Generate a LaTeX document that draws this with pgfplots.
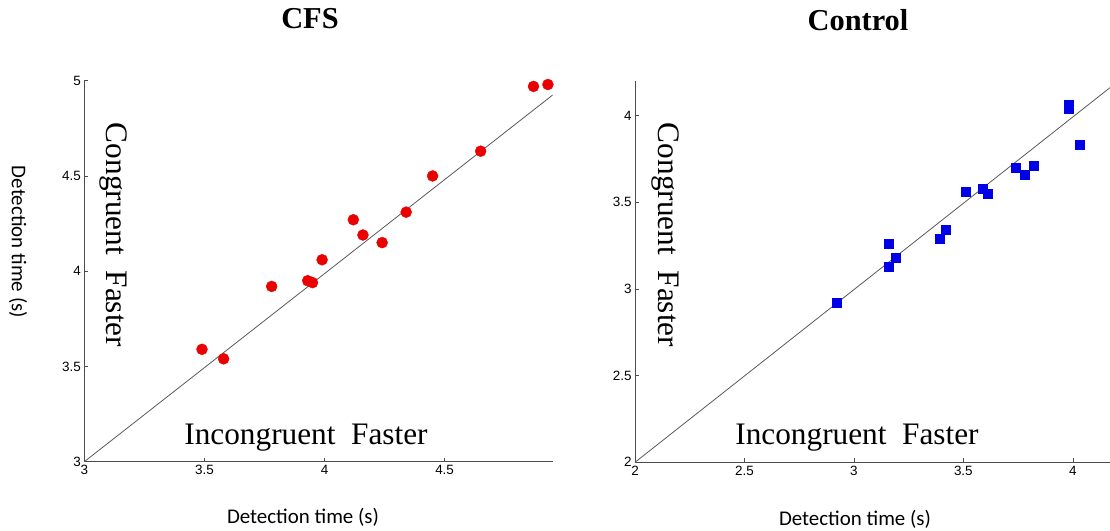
\documentclass[border=0pt]{standalone}
\usepackage{pgfplots}
\pgfplotsset{compat=1.18}
\usepackage{fontspec}
\setmainfont{Liberation Serif}
\newfontfamily\arialf{Liberation Sans}
\newfontfamily\calib{Carlito}
\definecolor{ptred}{RGB}{235,0,0}
\definecolor{ptblue}{RGB}{0,0,230}
\begin{document}
\begin{tikzpicture}
\useasboundingbox (0,0) rectangle (1110bp,531bp);
\pgfplotsset{myax/.style={scale only axis, axis x line*=bottom, axis y line*=left,
  tick align=inside, major tick length=4bp,
  axis line style={draw=black!70, line width=0.8bp}, tick style={draw=black!70, line width=0.6bp},
  ticklabel style={font=\arialf\fontsize{13.5}{15}\selectfont},
  /pgf/number format/assume math mode=true}}
\begin{axis}[myax, at={(84.3bp,69.3bp)}, anchor=south west, width=468.4bp, height=381bp,
  xmin=3, xmax=4.95, ymin=3, ymax=5, xtick={3,3.5,4,4.5}, ytick={3,3.5,4,4.5,5}]
\addplot[draw=black!65, line width=0.8bp] coordinates {(3,3) (4.95,4.925)};
\addplot[only marks, mark=*, mark size=5.5bp, color=ptred] coordinates {
(3.49,3.59) (3.58,3.54) (3.78,3.92) (3.93,3.95) (3.95,3.94) (3.99,4.06)
(4.12,4.27) (4.16,4.19) (4.24,4.15) (4.34,4.31) (4.45,4.50) (4.65,4.63)
(4.87,4.97) (4.93,4.98)};
\end{axis}
\begin{axis}[myax, at={(635bp,68.7bp)}, anchor=south west, width=475bp, height=381.6bp,
  xmin=2, xmax=4.17, ymin=2, ymax=4.2, xtick={2,2.5,3,3.5,4}, ytick={2,2.5,3,3.5,4}]
\addplot[draw=black!65, line width=0.8bp] coordinates {(2,2) (4.17,4.16)};
\addplot[only marks, mark=square*, mark size=4.5bp, color=ptblue] coordinates {
(2.92,2.92) (3.16,3.13) (3.16,3.26) (3.19,3.18) (3.39,3.29) (3.42,3.34)
(3.51,3.56) (3.59,3.58) (3.61,3.55) (3.74,3.70) (3.78,3.66) (3.82,3.71)
(3.98,4.04) (3.98,4.06) (4.03,3.83)};
\end{axis}
\node[anchor=base, font=\bfseries\fontsize{30.5}{32}\selectfont] at (310bp,502bp) {CFS};
\node[anchor=base, font=\bfseries\fontsize{30.5}{32}\selectfont] at (858bp,500bp) {Control};
\node[rotate=-90, font=\calib\fontsize{21}{23}\selectfont] at (18bp,289bp) {Detection time (s)};
\node[font=\calib\fontsize{21}{23}\selectfont] at (303bp,14bp) {Detection time (s)};
\node[font=\calib\fontsize{21}{23}\selectfont, inner sep=1bp] at (855bp,12bp) {Detection time (s)};
\node[rotate=-90, font=\fontsize{31.4}{33}\selectfont] at (113bp,296bp) {Congruent\ \ Faster};
\node[rotate=-90, font=\fontsize{31.4}{33}\selectfont] at (665bp,296bp) {Congruent\ \ Faster};
\node[anchor=base, font=\fontsize{31.4}{33}\selectfont] at (306bp,86bp) {Incongruent\ \ Faster};
\node[anchor=base, font=\fontsize{31.4}{33}\selectfont] at (857bp,86bp) {Incongruent\ \ Faster};
\end{tikzpicture}
\end{document}
